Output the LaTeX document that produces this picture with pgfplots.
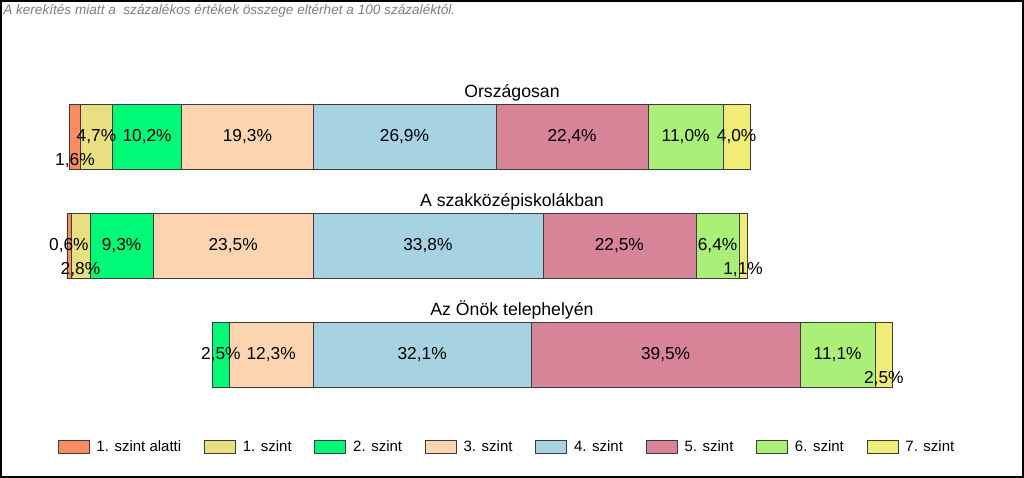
\documentclass[border=0pt]{standalone}
\usepackage{pgfplots}
\pgfplotsset{compat=1.18}
\usepackage{pgfplotstable}
\usepackage{fontspec}
\setmainfont{Liberation Sans}

\definecolor{sz0}{RGB}{250,140,100}
\definecolor{sz1}{RGB}{232,222,130}
\definecolor{sz2}{RGB}{0,250,120}
\definecolor{sz3}{RGB}{252,213,176}
\definecolor{sz4}{RGB}{166,210,226}
\definecolor{sz5}{RGB}{216,132,152}
\definecolor{sz6}{RGB}{170,240,120}
\definecolor{sz7}{RGB}{240,236,120}
\definecolor{edge}{RGB}{60,60,60}
\definecolor{notegray}{RGB}{125,125,125}

% x axis: 3./4. szint boundary sits at 50
% label positions: segment centres, lower row for the narrow segments
\pgfplotstableread{
x       y     v
15.0    1.78  1.6
18.15   2     4.7
25.6    2     10.2
40.35   2     19.3
63.45   2     26.9
88.1    2     22.4
104.8   2     11.0
112.3   2     4.0
14.1    1     0.6
15.8    0.78  2.8
21.85   1     9.3
38.25   1     23.5
66.9    1     33.8
95.05   1     22.5
109.5   1     6.4
113.25  0.78  1.1
36.45   0     2.5
43.85   0     12.3
66.05   0     32.1
101.85  0     39.5
127.15  0     11.1
133.95  -0.22 2.5
}\labels

\pgfplotsset{
  panel/.style={
    scale only axis, width=768pt, height=358.5pt,
    xmin=3.97, xmax=154.56, ymin=-1.128, ymax=3.257,
    hide axis, clip=false,
  },
}

\begin{document}
\begin{tikzpicture}
\begin{axis}[panel,
  xbar stacked, bar width=48.75pt,
  legend columns=8,
  legend style={at={(rel axis cs:0.0560,0.0655)}, anchor=west,
    draw=none, fill=none, inner sep=0pt,
    font=\fontsize{11.25}{13}\selectfont,
    nodes={inner sep=0pt},
    /tikz/every odd column/.append style={column sep=5.5pt},
    /tikz/every even column/.append style={column sep=17pt}},
  legend image code/.code={\draw[#1] (0pt,-5pt) rectangle (23.25pt,5pt);},
]
% invisible offset so the bars line up at the 3./4. szint boundary
\addplot[draw=none, fill=none] coordinates {(14.2,2) (13.8,1) (35.2,0)};
\addplot[fill=sz0, draw=edge] coordinates {(1.6,2) (0.6,1) (0,0)};
\addplot[fill=sz1, draw=edge] coordinates {(4.7,2) (2.8,1) (0,0)};
\addplot[fill=sz2, draw=edge] coordinates {(10.2,2) (9.3,1) (2.5,0)};
\addplot[fill=sz3, draw=edge] coordinates {(19.3,2) (23.5,1) (12.3,0)};
\addplot[fill=sz4, draw=edge] coordinates {(26.9,2) (33.8,1) (32.1,0)};
\addplot[fill=sz5, draw=edge] coordinates {(22.4,2) (22.5,1) (39.5,0)};
\addplot[fill=sz6, draw=edge] coordinates {(11.0,2) (6.4,1) (11.1,0)};
\addplot[fill=sz7, draw=edge] coordinates {(4.0,2) (1.1,1) (2.5,0)};
\legend{{},1. szint alatti, 1. szint, 2. szint, 3. szint, 4. szint, 5. szint, 6. szint, 7. szint}
\end{axis}

\begin{axis}[panel,
  /pgf/number format/assume math mode=true,
]
\addplot[draw=none,
  nodes near coords={\pgfmathprintnumber[fixed,fixed zerofill,precision=1,use comma]{\pgfplotspointmeta}\%},
  every node near coord/.append style={anchor=center, inner sep=0pt, font=\fontsize{13}{15}\selectfont},
  point meta=explicit]
  table[x=x, y=y, meta=v] {\labels};
\node[anchor=base, font=\fontsize{13.25}{15}\selectfont] at (axis cs:79.26,2.365) {Országosan};
\node[anchor=base, font=\fontsize{13.25}{15}\selectfont] at (axis cs:79.26,1.365) {A szakközépiskolákban};
\node[anchor=base, font=\fontsize{13.25}{15}\selectfont] at (axis cs:79.26,0.36) {Az Önök telephelyén};
\node[anchor=base west, text=notegray, inner sep=0pt, font=\itshape\fontsize{10.2}{12}\selectfont]
  at ([shift={(2.25pt,-11.25pt)}]rel axis cs:0,1) {A kerekítés miatt a\ \ százalékos értékek összege eltérhet a 100 százaléktól.};
\draw[line width=1.5pt, black] ([shift={(0.75pt,0.75pt)}]rel axis cs:0,0) rectangle ([shift={(-0.75pt,-0.75pt)}]rel axis cs:1,1);
\end{axis}
\end{tikzpicture}
\end{document}
